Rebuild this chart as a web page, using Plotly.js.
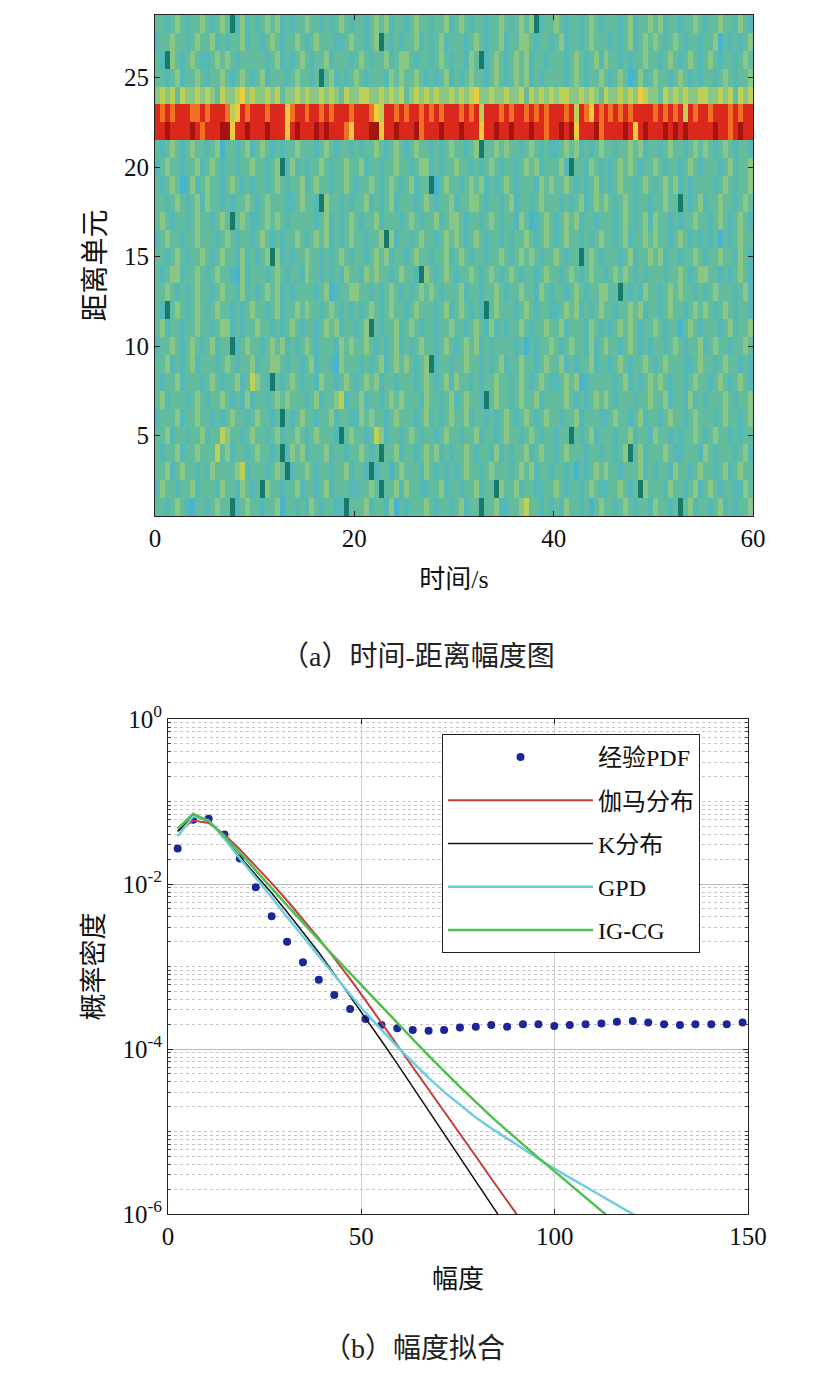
<!DOCTYPE html>
<html>
<head>
<meta charset="utf-8">
<script src="https://cdn.plot.ly/plotly-3.0.1.min.js"></script>
<style>
  html, body { margin: 0; padding: 0; background: #fff; }
  #chart { width: 835px; height: 1378px; }
</style>
</head>
<body>
<div id="chart"></div>
<script>
// (a) time-range amplitude map: 28 range cells x 120 time bins (0.5 s each)
// each digit is a colour level, 0 = dark teal ... 9 = dark red
// rows listed from range cell 1 (bottom) to 28 (top)
var timeStart = 0.25;
var timeStep = 0.5;
var rangeCells = [];
for (var r = 1; r <= 28; r++) rangeCells.push(r);

var levelRows = [
  "3323432133 2343302343 3233413323 2432332203 3342332413 2333432332 3423303342 2334533232 3243323134 3323432332 4332303423 3234232334",
  "2433233423 3324332432 3043323342 3323423332 2334303342 4332233423 3233423304 3342332233 4323323432 2334323043 3324332342 3432332243",
  "3342343323 2433334523 3323430233 4323323342 3320233134 3332432323 2343323433 3234342332 3323132343 4332333423 2332433234 3323423433",
  "3233423343 3353423323 4332302434 2333423323 3432303342 3323434232 3343233242 3233423433 2343332332 3323403423 3343223332 4323332342",
  "3342332334 2335433234 3323423343 2343332034 3323542332 3432332343 3233423323 4332343233 2330323423 3323342332 4332323343 2343323233",
  "2333423343 3232343323 4332303234 3323342332 2434332343 3323423234 3342332323 4323432343 3233423332 2343323423 3234332343 3323433234",
  "3423332343 2334323242 3323434333 2342334523 3423323434 3332433234 2343320343 3234334233 3343232343 4323332334 3342332423 2333432334",
  "3233423332 3432334235 4320323432 3324332343 2343423323 3323432342 4332323343 3234323432 2343412333 3323423234 3432332343 3234323432",
  "3342323423 3323432334 2334432332 3423321433 3232342343 4323402332 3343323234 2334332343 3423233423 3234323343 2343332234 3323433232",
  "2334323432 3423302343 3234342323 4323332434 3343232342 3234332343 2343423233 3323132334 3234332423 4332343232 3323432334 2343323343",
  "3423323343 3234423233 4332323432 3323434233 2340323342 3432332334 3323432423 2334323343 3423332432 3234343233 4323313432 3332342334",
  "3203432343 2343323234 3323423343 4332343232 3234323433 2343332342 3432320343 3323432332 2343423234 3323343423 3234332343 4323432332",
  "3343232343 3234332423 2343423233 3323412334 4332323432 3234343233 3423323343 2334332432 3323432334 4330323243 3234343323 2343332342",
  "3234423343 2343321423 3323432332 4332323243 3243433234 3320432343 2334323432 3432332343 3234323433 2343432323 3323343234 4332323432",
  "3323432334 3234332423 2340423233 4332323432 3323434233 2343323342 3432332334 3234343233 4323303432 3332342334 3423323343 2334332432",
  "2343323343 3323432332 3432323343 2343423234 3323340423 3234332343 4323432332 3233432343 2343323234 3323423343 4332343232 3231323433",
  "3432332343 3234303432 2343432333 3323423234 3233423332 3432334234 4323323432 3324312343 2343423323 3323432342 4332323343 3234323432",
  "3323432342 4332323343 2343332234 3320433232 3342323423 3323432334 2334432332 3423323433 3232342343 4323432332 3343303234 2334332343",
  "3234312423 4332343232 3323432334 2343323343 2334323432 3423301343 3234342323 4323332434 3343232342 3234332343 2343423233 3323432334",
  "2343323342 3432332334 3323402423 2334323343 3423323343 3234423233 4332323432 3323434233 3420332432 3234343233 4323323432 3332342334",
  "3234323433 2341332342 3432323343 3323432332 3233432343 2343323234 3323403343 4332343232 2343423234 3323343423 3234332343 4323432332",
  "8898888987 8889968898 8898886898 8898988876 8889968898 8897888988 8988868898 8988898878 8989688897 8888986898 8898989888 8898878988",
  "8787888778 7888756878 8878886788 7887878887 8887658878 7887878788 8787858887 8788787878 8878587687 8787878888 7878785878 8788878788",
  "4545354454 5435445645 4454534454 5445454354 4554454545 3454545445 4545644544 5445354545 4554454543 5445454654 4354545445 5445453545",
  "3323423343 2334323432 3423332343 3230342323 4323332434 3343232342 3234332343 2343423233 3323432334 3234312423 4332343232 3323432334",
  "3204323432 2343432333 3323423234 3233423332 3432334234 4323323432 3324302343 2343423323 3323432342 4332323343 3234323432 3432332343",
  "2334332343 3423233423 3234323343 2343332234 3323403232 3342323423 3323432334 2334432332 3423323433 3232342343 4323432332 3341323234",
  "3323432334 3234302423 2343423233 4332323432 3323434233 2343323342 3432332334 3234340233 4323323432 3332342334 3423323343 2334332432"
];

var levelColors = [
  [0 / 9, "rgb(22,122,108)"],
  [1 / 9, "rgb(70,180,208)"],
  [2 / 9, "rgb(84,184,184)"],
  [3 / 9, "rgb(100,188,158)"],
  [4 / 9, "rgb(138,198,132)"],
  [5 / 9, "rgb(188,208,88)"],
  [6 / 9, "rgb(236,204,62)"],
  [7 / 9, "rgb(240,112,36)"],
  [8 / 9, "rgb(218,40,28)"],
  [9 / 9, "rgb(165,20,15)"]
];

// (b) amplitude fit, values read as log10 of the density
var amp = [2.5, 6.5, 10.5, 14.6, 18.6, 22.7, 26.8, 30.8, 34.9, 39.0, 43.0, 47.1, 51.1,
           55.2, 59.3, 63.3, 67.4, 71.4, 75.5, 79.6, 83.6, 87.7, 91.8, 95.8, 99.9,
           103.9, 108.0, 112.1, 116.1, 120.2, 124.2, 128.3, 132.4, 136.4, 140.5, 144.5, 148.6];
var pdfLog = [-1.57, -1.22, -1.21, -1.40, -1.69, -2.04, -2.39, -2.70, -2.95, -3.16, -3.345, -3.515, -3.635,
              -3.71, -3.75, -3.77, -3.78, -3.77, -3.74, -3.73, -3.71, -3.73, -3.70, -3.70, -3.72,
              -3.71, -3.70, -3.69, -3.67, -3.66, -3.68, -3.70, -3.71, -3.70, -3.70, -3.70, -3.68];
var gammaLog = [-1.36, -1.23, -1.26, -1.40, -1.58, -1.78, -1.99, -2.20, -2.43, -2.66, -2.90, -3.15, -3.41,
                -3.68, -3.95, -4.22, -4.49, -4.76, -5.03, -5.30, -5.57, -5.84, -6.11];
var kLog = [-1.36, -1.17, -1.24, -1.44, -1.67, -1.89, -2.11, -2.34, -2.58, -2.83, -3.09, -3.36, -3.63,
            -3.90, -4.18, -4.46, -4.74, -5.02, -5.30, -5.59, -5.88, -6.17];
var gpdLog = [-1.42, -1.18, -1.23, -1.45, -1.69, -1.92, -2.16, -2.40, -2.64, -2.88, -3.11, -3.34, -3.56,
              -3.77, -3.97, -4.16, -4.35, -4.52, -4.68, -4.83, -4.96, -5.09, -5.21, -5.33, -5.45,
              -5.56, -5.67, -5.78, -5.89, -6.00, -6.11];
var igcgLog = [-1.33, -1.15, -1.24, -1.42, -1.62, -1.84, -2.05, -2.26, -2.47, -2.68, -2.88, -3.08, -3.28,
               -3.48, -3.68, -3.88, -4.08, -4.27, -4.46, -4.64, -4.82, -4.99, -5.16, -5.32, -5.48,
               -5.64, -5.80, -5.96, -6.12];

var seriesNames = ["经验PDF", "伽马分布", "K分布", "GPD", "IG-CG"];
var serif = "Liberation Serif";
var textFont = "Liberation Serif, Noto Sans CJK SC";

function toDensity(logs) {
    return logs.map(function (v) { return Math.pow(10, v); });
}

var zLevels = levelRows.map(function (s) {
    return s.replace(/\s/g, "").split("").map(Number);
});

var heat = {
    type: "heatmap",
    z: zLevels,
    x0: timeStart,
    dx: timeStep,
    y: rangeCells,
    zmin: 0,
    zmax: 9,
    colorscale: levelColors,
    showscale: false,
    showlegend: false,
    hoverinfo: "skip",
    xaxis: "x",
    yaxis: "y"
};

function lineTrace(name, logs, color, width) {
    return {
        type: "scatter",
        mode: "lines",
        name: name,
        x: amp.slice(0, logs.length),
        y: toDensity(logs),
        line: { color: color, width: width },
        legendgroup: name,
        xaxis: "x2",
        yaxis: "y2"
    };
}

var dots = {
    type: "scatter",
    mode: "markers",
    name: seriesNames[0],
    x: amp,
    y: toDensity(pdfLog),
    marker: { color: "rgb(28,38,150)", size: 8 },
    legendgroup: seriesNames[0],
    xaxis: "x2",
    yaxis: "y2"
};

var traces = [
    heat,
    dots,
    lineTrace(seriesNames[1], gammaLog, "rgb(196,60,60)", 2),
    lineTrace(seriesNames[2], kLog, "#111", 1.5),
    lineTrace(seriesNames[3], gpdLog, "rgb(110,205,220)", 2.5),
    lineTrace(seriesNames[4], igcgLog, "rgb(80,190,80)", 2.5)
];

// minor grid of the log axis: 2..9 x each decade plus the odd decades
var minorVals = [];
for (var d = -6; d < 0; d++) {
    if (d % 2 !== 0) minorVals.push(Math.pow(10, d));
    for (var m = 2; m <= 9; m++) minorVals.push(m * Math.pow(10, d));
}

function axis(extra) {
    var base = {
        showline: true,
        linecolor: "#222",
        linewidth: 1,
        mirror: "ticks",
        ticks: "inside",
        ticklen: 5,
        tickcolor: "#222",
        zeroline: false,
        tickfont: { family: serif, size: 25, color: "#111" }
    };
    return Object.assign(base, extra);
}

function axisTitle(text, size, standoff) {
    return { text: text, font: { family: textFont, size: size, color: "#111" }, standoff: standoff };
}

var layout = {
    width: 835,
    height: 1378,
    margin: { l: 0, r: 0, t: 0, b: 0 },
    paper_bgcolor: "#fff",
    plot_bgcolor: "#fff",
    font: { family: textFont, color: "#111" },
    xaxis: axis({
        domain: [155 / 835, 753 / 835],
        range: [0, 60],
        tickvals: [0, 20, 40, 60],
        showgrid: false,
        anchor: "y",
        title: axisTitle("时间/s", 26, 18)
    }),
    yaxis: axis({
        domain: [1 - 516 / 1378, 1 - 15 / 1378],
        range: [0.5, 28.5],
        tickvals: [5, 10, 15, 20, 25],
        showgrid: false,
        anchor: "x",
        title: axisTitle("距离单元", 28, 10)
    }),
    xaxis2: axis({
        domain: [168 / 835, 748 / 835],
        range: [0, 150],
        tickvals: [0, 50, 100, 150],
        showgrid: true,
        gridcolor: "#d0d0d0",
        anchor: "y2",
        title: axisTitle("幅度", 26, 20)
    }),
    yaxis2: axis({
        domain: [1 - 1214 / 1378, 1 - 719 / 1378],
        type: "log",
        range: [-6, 0],
        tickvals: [1, 1e-2, 1e-4, 1e-6],
        ticktext: ["10<sup>0</sup>", "10<sup>-2</sup>", "10<sup>-4</sup>", "10<sup>-6</sup>"],
        showgrid: true,
        gridcolor: "#b8b8b8",
        minor: {
            tickvals: minorVals,
            ticks: "inside",
            ticklen: 3,
            tickcolor: "#444",
            showgrid: true,
            gridcolor: "#c4c4c4",
            griddash: "dot",
            gridwidth: 1
        },
        anchor: "x2",
        title: axisTitle("概率密度", 27, 10)
    }),
    showlegend: true,
    legend: {
        x: 442 / 835,
        y: 1 - 734 / 1378,
        xanchor: "left",
        yanchor: "top",
        bgcolor: "#fff",
        bordercolor: "#222",
        borderwidth: 1,
        font: { family: textFont, size: 24, color: "#111" },
        itemwidth: 145,
        tracegroupgap: 9,
        traceorder: "grouped"
    },
    annotations: [
        {
            text: "（a）时间-距离幅度图",
            xref: "paper", yref: "paper",
            x: 0.5, y: 1 - 656 / 1378,
            xanchor: "center", yanchor: "middle",
            showarrow: false,
            font: { family: textFont, size: 28, color: "#222" }
        },
        {
            text: "（b）幅度拟合",
            xref: "paper", yref: "paper",
            x: 414 / 835, y: 1 - 1348 / 1378,
            xanchor: "center", yanchor: "middle",
            showarrow: false,
            font: { family: textFont, size: 28, color: "#222" }
        }
    ]
};

Plotly.newPlot("chart", traces, layout, { staticPlot: true });
</script>
</body>
</html>
